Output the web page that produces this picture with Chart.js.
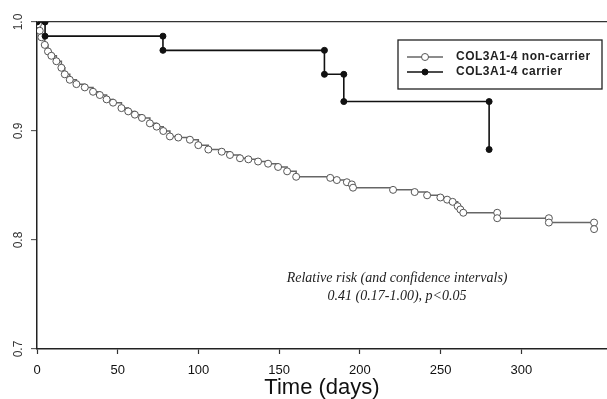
<!DOCTYPE html>
<html>
<head>
<meta charset="utf-8">
<title>Survival by COL3A1-4 status</title>
<script src="https://cdn.jsdelivr.net/npm/chart.js@4.4.0/dist/chart.umd.min.js"></script>
<style>
  html, body { margin: 0; padding: 0; background: #fff; }
  #wrap { position: relative; width: 607px; height: 399px; }
</style>
</head>
<body>
<div id="wrap"><canvas id="chart"></canvas></div>
<script>
// axis ticks
const X_TICKS = [0, 50, 100, 150, 200, 250, 300];
const Y_TICKS = [0.7, 0.8, 0.9, 1.0];

const SERIES = ["COL3A1-4 non-carrier", "COL3A1-4 carrier"];

// non-carrier curve (open circles)
const NONCARRIER_DAYS = [0, 0.6, 1.7, 2.7, 4.8, 6.8, 8.9, 12, 15.1, 17.2, 20.3, 24.4, 29.6, 34.7, 38.9,
  43.1, 47.1, 52.3, 56.5, 60.6, 65, 69.9, 74.1, 78.2, 82.3, 87.5, 94.7, 99.9, 106.1, 114.4, 119.5,
  125.7, 130.9, 136.9, 143.1, 149.3, 154.9, 160.5, 181.6, 185.7, 191.9, 195, 195.7, 220.5, 233.9,
  241.6, 249.8, 254, 257.4, 260.5, 262.2, 264, 285, 285, 317, 317, 345, 345];
const NONCARRIER_SURV = [1, 0.998, 0.992, 0.986, 0.979, 0.973, 0.969, 0.964, 0.958, 0.952, 0.947, 0.943,
  0.940, 0.936, 0.933, 0.929, 0.926, 0.921, 0.918, 0.915, 0.912, 0.907, 0.904, 0.900, 0.895, 0.894,
  0.892, 0.887, 0.883, 0.881, 0.878, 0.875, 0.874, 0.872, 0.870, 0.867, 0.863, 0.858, 0.857, 0.855,
  0.853, 0.851, 0.848, 0.846, 0.844, 0.841, 0.839, 0.837, 0.835, 0.831, 0.828, 0.825, 0.825, 0.820,
  0.820, 0.816, 0.816, 0.810];

// carrier curve (filled dots), corners of each step
const CARRIER_DAYS = [0, 5, 5, 78, 78, 178, 178, 190, 190, 280, 280];
const CARRIER_SURV = [1, 1, 0.987, 0.987, 0.974, 0.974, 0.952, 0.952, 0.927, 0.927, 0.883];

const NOTE_LINES = ["Relative risk (and confidence intervals)", "0.41 (0.17-1.00), p<0.05"];
const NOTE_AT = { day: 223, surv: [0.765, 0.748] };

const toPoints = (xs, ys) => xs.map((x, i) => ({ x: x, y: ys[i] }));

// legend box drawn inside the plot, top right
const boxLegend = {
  id: "boxLegend",
  afterDraw(chart) {
    const ctx = chart.ctx;
    const area = chart.chartArea;
    const left = area.right - 209, top = area.top + 18, w = 204, h = 49;
    ctx.save();
    ctx.strokeStyle = "#222";
    ctx.lineWidth = 1.3;
    ctx.strokeRect(left, top, w, h);
    ctx.font = "bold 12px 'Liberation Sans', Arial, sans-serif";
    ctx.letterSpacing = "0.5px";
    ctx.textBaseline = "middle";
    chart.data.datasets.forEach((ds, i) => {
      const y = top + 17 + i * 15;
      ctx.strokeStyle = ds.borderColor;
      ctx.lineWidth = 1.5;
      ctx.beginPath();
      ctx.moveTo(left + 9, y);
      ctx.lineTo(left + 45, y);
      ctx.stroke();
      ctx.beginPath();
      ctx.arc(left + 27, y, ds.pointRadius, 0, Math.PI * 2);
      ctx.fillStyle = ds.pointBackgroundColor;
      ctx.fill();
      ctx.lineWidth = 1;
      ctx.strokeStyle = ds.pointBorderColor;
      ctx.stroke();
      ctx.fillStyle = "#222";
      ctx.fillText(ds.label, left + 58, y);
    });
    ctx.restore();
  }
};

// italic note under the curves
const noteText = {
  id: "noteText",
  afterDraw(chart) {
    const ctx = chart.ctx;
    const xs = chart.scales.x, ys = chart.scales.y;
    ctx.save();
    ctx.font = "italic 14px 'Liberation Serif', 'Times New Roman', serif";
    ctx.fillStyle = "#222";
    ctx.textAlign = "center";
    ctx.textBaseline = "middle";
    NOTE_LINES.forEach((t, i) => {
      ctx.fillText(t, xs.getPixelForValue(NOTE_AT.day), ys.getPixelForValue(NOTE_AT.surv[i]));
    });
    ctx.restore();
  }
};

const chart = new Chart(document.getElementById("chart"), {
  type: "line",
  data: {
    datasets: [
      {
        label: SERIES[0],
        data: toPoints(NONCARRIER_DAYS, NONCARRIER_SURV),
        stepped: true,
        borderColor: "#666",
        borderWidth: 1.5,
        pointRadius: 3.5,
        pointBackgroundColor: "#fff",
        pointBorderColor: "#555",
        pointBorderWidth: 1,
        order: 1
      },
      {
        label: SERIES[1],
        data: toPoints(CARRIER_DAYS, CARRIER_SURV),
        borderColor: "#111",
        borderWidth: 1.6,
        pointRadius: 3,
        pointBackgroundColor: "#111",
        pointBorderColor: "#111",
        pointBorderWidth: 1,
        order: 0
      }
    ]
  },
  options: {
    responsive: true,
    maintainAspectRatio: false,
    animation: false,
    layout: { autoPadding: false, padding: { top: 22, right: 0, bottom: 0, left: 0 } },
    plugins: {
      legend: { display: false },
      tooltip: { enabled: false }
    },
    scales: {
      x: {
        type: "linear",
        min: 0,
        max: 353,
        afterBuildTicks: (s) => { s.ticks = X_TICKS.map(v => ({ value: v })); },
        afterFit: (s) => { s.height = 50; },
        border: { color: "#222", width: 1.5 },
        grid: { drawOnChartArea: false, tickLength: 5, tickColor: "#333", tickWidth: 1.2 },
        ticks: {
          padding: 9,
          color: "#111",
          font: { family: "'Liberation Sans', Arial, sans-serif", size: 13 },
          maxRotation: 0
        },
        title: {
          display: true,
          text: "Time (days)",
          color: "#111",
          padding: { top: 0, bottom: 0 },
          font: { family: "'Liberation Sans', Arial, sans-serif", size: 22, lineHeight: 1 }
        }
      },
      y: {
        type: "linear",
        min: 0.7,
        max: 1.0,
        afterBuildTicks: (s) => { s.ticks = Y_TICKS.map(v => ({ value: v })); },
        afterFit: (s) => { s.width = 37; },
        border: { color: "#222", width: 1.5 },
        grid: {
          color: (c) => (c.tick && c.tick.value === 1 ? "#333" : "rgba(0,0,0,0)"),
          lineWidth: 1.3,
          tickLength: 6,
          tickColor: "#444",
          tickWidth: 1
        },
        ticks: {
          minRotation: 90,
          maxRotation: 90,
          crossAlign: "center",
          padding: 4,
          color: "#333",
          font: { family: "'Liberation Sans', Arial, sans-serif", size: 12 },
          callback: (v) => Number(v).toFixed(1)
        }
      }
    }
  },
  plugins: [boxLegend, noteText]
});
</script>
</body>
</html>
